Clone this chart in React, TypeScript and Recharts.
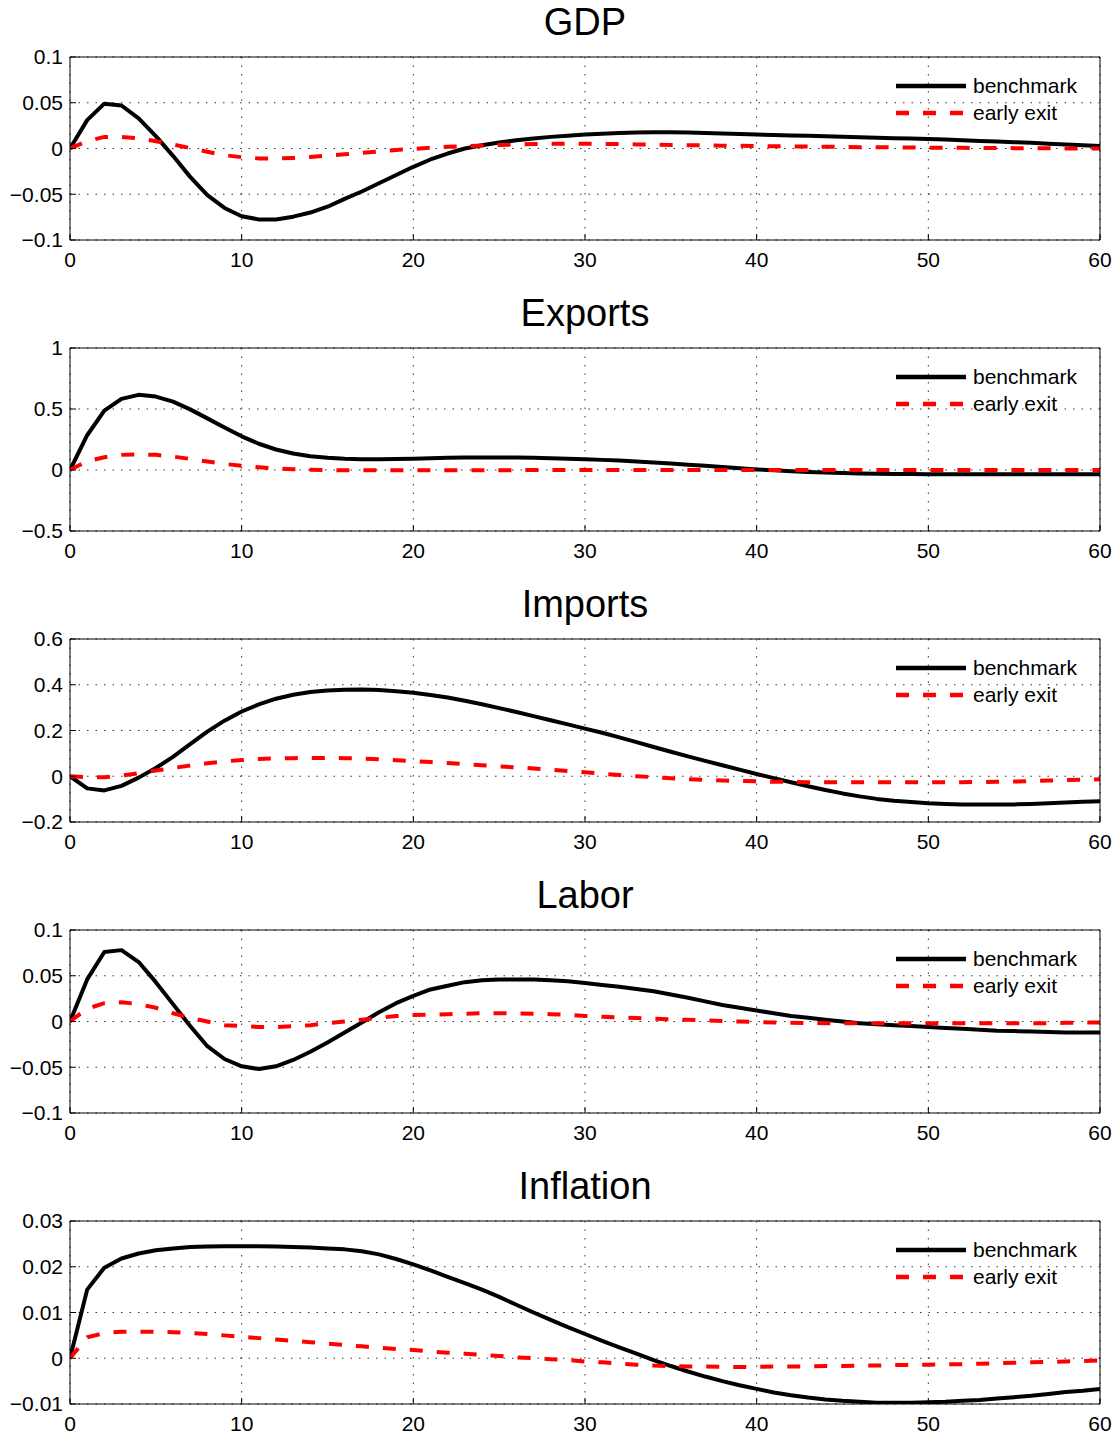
import { LineChart, Line, XAxis, YAxis, CartesianGrid, Legend } from 'recharts'

const FONT = '"Liberation Sans", Arial, Helvetica, sans-serif'

const periods = Array.from({ length: 61 }, (_, i) => i)
const xTicks = [0, 10, 20, 30, 40, 50, 60]

const titles = ['GDP', 'Exports', 'Imports', 'Labor', 'Inflation']

const gdpBench = [
  0, 0.031, 0.049, 0.047, 0.033, 0.0135, -0.008, -0.031, -0.051, -0.065,
  -0.074, -0.0775, -0.0775, -0.0745, -0.07, -0.0636, -0.055, -0.047, -0.038, -0.029,
  -0.02, -0.012, -0.0055, 0, 0.0036, 0.0065, 0.009, 0.011, 0.0127, 0.014,
  0.0152, 0.0162, 0.017, 0.0175, 0.0178, 0.0178, 0.0175, 0.017, 0.0164, 0.0158,
  0.0153, 0.0147, 0.0142, 0.0138, 0.0134, 0.0129, 0.0124, 0.0118, 0.0113, 0.0109,
  0.0105, 0.0098, 0.009, 0.0083, 0.0076, 0.0069, 0.0062, 0.0053, 0.0044, 0.0035,
  0.0026,
]
const gdpEarly = [
  0, 0.008, 0.0127, 0.0127, 0.011, 0.008, 0.0044, 0.0005, -0.0036, -0.0073,
  -0.0095, -0.0108, -0.011, -0.0103, -0.0092, -0.0078, -0.0063, -0.0047, -0.0032, -0.0017,
  -0.0004, 0.0008, 0.0018, 0.0026, 0.0033, 0.0039, 0.0044, 0.0048, 0.0051, 0.0053,
  0.0053, 0.0051, 0.0048, 0.0045, 0.0042, 0.0039, 0.0036, 0.0034, 0.0031, 0.0029,
  0.0027, 0.0025, 0.0023, 0.0021, 0.0019, 0.0017, 0.0015, 0.0013, 0.0012, 0.001,
  0.0009, 0.0008, 0.0007, 0.0006, 0.0005, 0.0004, 0.0003, 0.0002, 0.0001, 0,
  0,
]

const exportsBench = [
  0, 0.285, 0.486, 0.583, 0.616, 0.602, 0.56, 0.497, 0.423, 0.348,
  0.276, 0.215, 0.168, 0.135, 0.113, 0.1, 0.092, 0.088, 0.088, 0.09,
  0.093, 0.097, 0.1, 0.102, 0.103, 0.103, 0.102, 0.1, 0.097, 0.093,
  0.088, 0.083, 0.077, 0.07, 0.062, 0.053, 0.044, 0.034, 0.024, 0.014,
  0.005, -0.003, -0.01, -0.016, -0.021, -0.025, -0.028, -0.03, -0.032, -0.033,
  -0.034, -0.034, -0.034, -0.034, -0.034, -0.034, -0.034, -0.034, -0.034, -0.034,
  -0.034,
]
const exportsEarly = [
  0, 0.072, 0.105, 0.124, 0.128, 0.124, 0.11, 0.091, 0.069, 0.05,
  0.034, 0.022, 0.013, 0.007, 0.003, 0, -0.002, -0.002, -0.002, -0.002,
  -0.002, -0.002, -0.002, -0.002, -0.002, -0.002, -0.001, -0.001, -0.001, -0.001,
  -0.001, -0.001, -0.001, -0.001, -0.001, -0.001, -0.001, -0.001, -0.001, -0.001,
  -0.001, 0, 0, 0, 0, 0, 0, 0, 0, 0,
  0, 0, 0, 0, 0, 0, 0, 0, 0, 0,
  0,
]

const importsBench = [
  0, -0.053, -0.062, -0.042, -0.006, 0.036, 0.085, 0.14, 0.195, 0.243,
  0.283, 0.314, 0.339, 0.356, 0.368, 0.375, 0.378, 0.379, 0.377, 0.372,
  0.365, 0.355, 0.344, 0.33, 0.315, 0.298, 0.281, 0.263, 0.245, 0.227,
  0.208, 0.19, 0.17, 0.149, 0.128, 0.107, 0.087, 0.067, 0.048, 0.029,
  0.01, -0.008, -0.026, -0.044, -0.06, -0.075, -0.088, -0.099, -0.107, -0.113,
  -0.118, -0.121, -0.123, -0.124, -0.124, -0.123, -0.121, -0.118, -0.115, -0.112,
  -0.109,
]
const importsEarly = [
  0, -0.004, -0.004, 0.003, 0.013, 0.025, 0.036, 0.047, 0.057, 0.065,
  0.071, 0.075, 0.078, 0.079, 0.08, 0.08, 0.079, 0.077, 0.074, 0.07,
  0.066, 0.062, 0.058, 0.053, 0.048, 0.043, 0.039, 0.034, 0.028, 0.023,
  0.017, 0.011, 0.005, 0, -0.004, -0.009, -0.013, -0.016, -0.019, -0.021,
  -0.022, -0.024, -0.025, -0.026, -0.026, -0.026, -0.026, -0.026, -0.026, -0.026,
  -0.026, -0.026, -0.026, -0.025, -0.024, -0.023, -0.021, -0.019, -0.017, -0.015,
  -0.013,
]

const laborBench = [
  0, 0.046, 0.076, 0.078, 0.065, 0.043, 0.019, -0.005, -0.027, -0.041,
  -0.049, -0.052, -0.049, -0.042, -0.033, -0.023, -0.012, -0.001, 0.01, 0.02,
  0.028, 0.035, 0.039, 0.043, 0.045, 0.046, 0.046, 0.046, 0.045, 0.044,
  0.042, 0.04, 0.038, 0.0355, 0.033, 0.0295, 0.026, 0.022, 0.018, 0.015,
  0.012, 0.009, 0.006, 0.004, 0.002, 0, -0.002, -0.003, -0.004, -0.005,
  -0.006, -0.007, -0.008, -0.009, -0.01, -0.0105, -0.011, -0.0115, -0.012, -0.012,
  -0.012,
]
const laborEarly = [
  0, 0.014, 0.02, 0.021, 0.019, 0.015, 0.009, 0.004, 0, -0.004,
  -0.005, -0.006, -0.006, -0.005, -0.004, -0.002, 0, 0.002, 0.004, 0.006,
  0.007, 0.0075, 0.008, 0.0085, 0.009, 0.009, 0.009, 0.0085, 0.008, 0.0075,
  0.006, 0.0052, 0.0045, 0.0038, 0.003, 0.0024, 0.0018, 0.0012, 0.0006, 0,
  -0.0005, -0.001, -0.0013, -0.0016, -0.0018, -0.002, -0.002, -0.002, -0.002, -0.002,
  -0.002, -0.002, -0.002, -0.002, -0.002, -0.002, -0.002, -0.0018, -0.0015, -0.0012,
  -0.001,
]

const inflationBench = [
  0, 0.015, 0.0198, 0.0218, 0.0229, 0.0236, 0.024, 0.0243, 0.0244, 0.0245,
  0.0245, 0.0245, 0.0244, 0.0243, 0.0242, 0.024, 0.0238, 0.0234, 0.0227, 0.0217,
  0.0205, 0.0192, 0.0178, 0.0164, 0.015, 0.0134, 0.0117, 0.01, 0.0084, 0.0068,
  0.0053, 0.0038, 0.0024, 0.001, -0.0004, -0.0017, -0.0029, -0.004, -0.005, -0.0059,
  -0.0067, -0.0075, -0.0081, -0.0086, -0.009, -0.0093, -0.0095, -0.0097, -0.0097, -0.0097,
  -0.0096, -0.0095, -0.0093, -0.0091, -0.0088, -0.0085, -0.0082, -0.0078, -0.0074, -0.0071,
  -0.0067,
]
const inflationEarly = [
  0, 0.0046, 0.0055, 0.0058, 0.0058, 0.0058, 0.0057, 0.0055, 0.0053, 0.005,
  0.0047, 0.0044, 0.0041, 0.0038, 0.0035, 0.0032, 0.0029, 0.0026, 0.0023, 0.002,
  0.0018, 0.0015, 0.0012, 0.001, 0.0007, 0.0005, 0.0002, 0, -0.0002, -0.0004,
  -0.0007, -0.0009, -0.0012, -0.0014, -0.0016, -0.0017, -0.0018, -0.0018, -0.0019, -0.0019,
  -0.0019, -0.0018, -0.0018, -0.0018, -0.0017, -0.0017, -0.0016, -0.0016, -0.0015, -0.0015,
  -0.0014, -0.0013, -0.0013, -0.0012, -0.0011, -0.001, -0.0009, -0.0008, -0.0007, -0.0006,
  -0.0005,
]

const benchSeries = [gdpBench, exportsBench, importsBench, laborBench, inflationBench]
const earlySeries = [gdpEarly, exportsEarly, importsEarly, laborEarly, inflationEarly]

const yDomains: [number, number][] = [
  [-0.1, 0.1],
  [-0.5, 1],
  [-0.2, 0.6],
  [-0.1, 0.1],
  [-0.01, 0.03],
]
const yTicks = [
  [-0.1, -0.05, 0, 0.05, 0.1],
  [-0.5, 0, 0.5, 1],
  [-0.2, 0, 0.2, 0.4, 0.6],
  [-0.1, -0.05, 0, 0.05, 0.1],
  [-0.01, 0, 0.01, 0.02, 0.03],
]

const PANEL_H = 291.1
const CHART_H = 291

const fmt = (v: number) => String(Math.round(v * 1e6) / 1e6).replace('-', '\u2212')

function LegendBox({ payload }: any) {
  return (
    <div style={{ fontFamily: FONT, fontSize: 21, color: '#000' }}>
      {(payload || []).map((p: any) => (
        <div key={p.value} style={{ display: 'flex', alignItems: 'center', height: 27 }}>
          <svg width={70} height={10} style={{ marginRight: 7 }}>
            <line
              x1={0}
              y1={5}
              x2={70}
              y2={5}
              stroke={p.color}
              strokeWidth={4.5}
              strokeDasharray={p.payload?.strokeDasharray}
            />
          </svg>
          <span>{p.value}</span>
        </div>
      ))}
    </div>
  )
}

function Panel({ idx }: { idx: number }) {
  const data = periods.map((t, i) => ({
    t,
    bench: benchSeries[idx][i],
    early: earlySeries[idx][i],
  }))
  const tickStyle = { fontSize: 21, fill: '#000', fontFamily: FONT }
  return (
    <div style={{ position: 'absolute', left: 0, top: Math.round(idx * PANEL_H), width: 1120, height: CHART_H }}>
      <div
        style={{
          position: 'absolute',
          left: 70,
          width: 1030,
          top: 3,
          textAlign: 'center',
          fontSize: 38,
          lineHeight: '38px',
          fontFamily: FONT,
          color: '#000',
        }}
      >
        {titles[idx]}
      </div>
      <LineChart width={1120} height={CHART_H} data={data} margin={{ top: 56, right: 19, bottom: 21, left: 0 }}>
        <CartesianGrid stroke="#333" strokeDasharray="1.5 7" />
        <XAxis
          dataKey="t"
          type="number"
          domain={[0, 60]}
          ticks={xTicks}
          height={30}
          tickSize={-6}
          tickMargin={18}
          tick={tickStyle}
          stroke="#000"
          allowDataOverflow
        />
        <XAxis
          xAxisId="top"
          orientation="top"
          type="number"
          domain={[0, 60]}
          ticks={xTicks}
          height={1}
          tickSize={-6}
          tick={false}
          stroke="#000"
        />
        <YAxis
          type="number"
          domain={yDomains[idx]}
          ticks={yTicks[idx]}
          width={70}
          tickSize={-6}
          tickMargin={13}
          tick={tickStyle}
          tickFormatter={fmt}
          stroke="#000"
          allowDataOverflow
        />
        <YAxis
          yAxisId="r"
          orientation="right"
          type="number"
          domain={yDomains[idx]}
          ticks={yTicks[idx]}
          width={1}
          tickSize={-6}
          tick={false}
          stroke="#000"
        />
        <Legend
          layout="vertical"
          align="center"
          verticalAlign="middle"
          wrapperStyle={{ left: 896, top: 72, width: 200 }}
          content={<LegendBox />}
        />
        <Line
          name="benchmark"
          dataKey="bench"
          type="linear"
          stroke="#000"
          strokeWidth={4}
          dot={false}
          isAnimationActive={false}
          strokeLinejoin="round"
        />
        <Line
          name="early exit"
          dataKey="early"
          type="linear"
          stroke="#ff0000"
          strokeWidth={4}
          strokeDasharray="13 14"
          dot={false}
          isAnimationActive={false}
        />
      </LineChart>
    </div>
  )
}

export default function App() {
  return (
    <div
      style={{
        position: 'absolute',
        left: 0,
        top: 0,
        width: 1120,
        height: 1436,
        overflow: 'hidden',
        background: '#fff',
      }}
    >
      {titles.map((_, i) => (
        <Panel key={i} idx={i} />
      ))}
    </div>
  )
}
